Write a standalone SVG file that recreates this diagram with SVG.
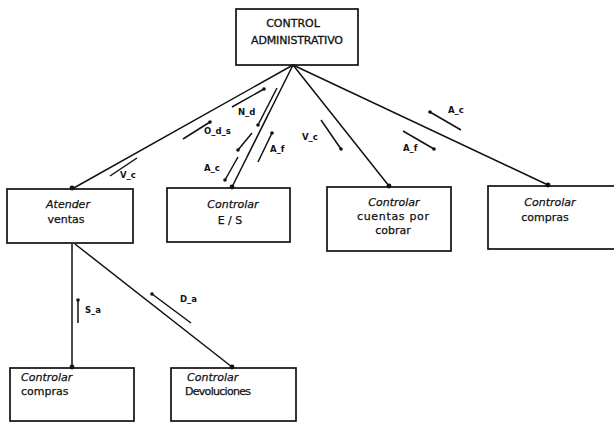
<svg xmlns="http://www.w3.org/2000/svg" width="614" height="423" viewBox="0 0 614 423">
  <style>
    .box { fill: #fff; stroke: #111; stroke-width: 1.7; }
    .edge { stroke: #111; stroke-width: 1.5; fill: none; }
    .flow { stroke: #111; stroke-width: 1.5; fill: none; }
    .dot { fill: #111; }
    .t { font-family: "DejaVu Sans", "Liberation Sans", sans-serif; font-size: 11px; fill: #111; stroke: #111; stroke-width: 0.25; }
    .it { font-style: italic; }
    .head { font-family: "DejaVu Sans", "Liberation Sans", sans-serif; font-size: 11px; fill: #111; stroke: #111; stroke-width: 0.3; }
    .lbl { font-family: "DejaVu Sans", "Liberation Sans", sans-serif; font-size: 8.5px; font-weight: bold; fill: #111; }
  </style>
  <rect width="614" height="423" fill="#fff"/>

  <g id="control-administrativo">
    <rect class="box" x="236" y="9" width="122" height="56"/>
    <text class="head" x="293" y="27" text-anchor="middle">CONTROL</text>
    <text class="head" x="297" y="44" text-anchor="middle" textLength="92">ADMINISTRATIVO</text>
  </g>

  <g id="atender-ventas">
    <rect class="box" x="7" y="189" width="126" height="54"/>
    <text class="t it" x="68" y="208" text-anchor="middle">Atender</text>
    <text class="t" x="66" y="223" text-anchor="middle">ventas</text>
  </g>

  <g id="controlar-es">
    <rect class="box" x="167" y="188" width="123" height="54"/>
    <text class="t it" x="233" y="208" text-anchor="middle">Controlar</text>
    <text class="t" x="230" y="224" text-anchor="middle">E / S</text>
  </g>

  <g id="controlar-cuentas">
    <rect class="box" x="327" y="187" width="124" height="64"/>
    <text class="t it" x="394" y="206" text-anchor="middle">Controlar</text>
    <text class="t" x="393" y="220" text-anchor="middle" textLength="72">cuentas por</text>
    <text class="t" x="393" y="234" text-anchor="middle">cobrar</text>
  </g>

  <g id="controlar-compras">
    <rect class="box" x="488" y="186" width="130" height="63"/>
    <text class="t it" x="550" y="206" text-anchor="middle">Controlar</text>
    <text class="t" x="545" y="221" text-anchor="middle">compras</text>
  </g>

  <g id="controlar-compras-2">
    <rect class="box" x="10" y="368" width="124" height="53"/>
    <text class="t it" x="21" y="381">Controlar</text>
    <text class="t" x="21" y="395">compras</text>
  </g>

  <g id="controlar-devoluciones">
    <rect class="box" x="171" y="368" width="125" height="53"/>
    <text class="t it" x="187" y="381">Controlar</text>
    <text class="t" x="185" y="395" textLength="66">Devoluciones</text>
  </g>

  <!-- connectors: hierarchy lines and data-flow arrows -->
  <g id="connectors">
    <!-- from CONTROL ADMINISTRATIVO -->
    <line class="edge" x1="293" y1="65" x2="72" y2="189"/>
    <line class="edge" x1="293" y1="65" x2="232" y2="187"/>
    <line class="edge" x1="293" y1="65" x2="389" y2="186"/>
    <line class="edge" x1="293" y1="65" x2="548" y2="185"/>
    <circle class="dot" cx="72" cy="188" r="2.4"/>
    <circle class="dot" cx="232" cy="187" r="2.4"/>
    <circle class="dot" cx="389" cy="186" r="2.4"/>
    <circle class="dot" cx="548" cy="185" r="2.4"/>

    <!-- from Atender ventas -->
    <line class="edge" x1="72" y1="244" x2="72" y2="368"/>
    <line class="edge" x1="75" y1="244" x2="232" y2="367"/>
    <circle class="dot" cx="72" cy="367" r="2.4"/>
    <circle class="dot" cx="232" cy="367" r="2.4"/>

    <!-- V_c (to Atender ventas) -->
    <line class="flow" x1="110" y1="176" x2="137" y2="158"/>
    <text class="lbl" x="120" y="178">V_c</text>

    <!-- O_d_s -->
    <line class="flow" x1="183" y1="139" x2="210" y2="122"/>
    <circle class="dot" cx="210" cy="122" r="1.8"/>
    <text class="lbl" x="204" y="134">O_d_s</text>

    <!-- N_d -->
    <line class="flow" x1="232" y1="107" x2="264" y2="89"/>
    <circle class="dot" cx="264" cy="89" r="1.8"/>
    <text class="lbl" x="238" y="115">N_d</text>

    <!-- A_c (down to E / S) -->
    <line class="flow" x1="277" y1="88" x2="258" y2="125"/>
    <circle class="dot" cx="258" cy="125" r="1.8"/>
    <line class="flow" x1="252" y1="133" x2="238" y2="150"/>
    <circle class="dot" cx="238" cy="150" r="1.8"/>
    <line class="flow" x1="238" y1="157" x2="225" y2="180"/>
    <circle class="dot" cx="225" cy="180" r="1.8"/>
    <text class="lbl" x="204" y="171">A_c</text>

    <!-- A_f (up from E / S) -->
    <line class="flow" x1="272" y1="133" x2="258" y2="162"/>
    <circle class="dot" cx="272" cy="133" r="1.8"/>
    <text class="lbl" x="270" y="152">A_f</text>

    <!-- V_c (to cuentas por cobrar) -->
    <line class="flow" x1="321" y1="120" x2="341" y2="149"/>
    <circle class="dot" cx="341" cy="149" r="1.8"/>
    <text class="lbl" x="302" y="140">V_c</text>

    <!-- A_c / A_f (compras) -->
    <line class="flow" x1="430" y1="112" x2="461" y2="130"/>
    <circle class="dot" cx="430" cy="112" r="1.8"/>
    <text class="lbl" x="448" y="113">A_c</text>
    <line class="flow" x1="403" y1="131" x2="434" y2="149"/>
    <circle class="dot" cx="434" cy="149" r="1.8"/>
    <text class="lbl" x="403" y="151">A_f</text>

    <!-- S_a -->
    <line class="flow" x1="78" y1="300" x2="78" y2="323"/>
    <circle class="dot" cx="78" cy="300" r="1.8"/>
    <text class="lbl" x="85" y="313">S_a</text>

    <!-- D_a -->
    <line class="flow" x1="152" y1="294" x2="191" y2="323"/>
    <circle class="dot" cx="152" cy="294" r="1.8"/>
    <text class="lbl" x="180" y="302">D_a</text>
  </g>
</svg>
